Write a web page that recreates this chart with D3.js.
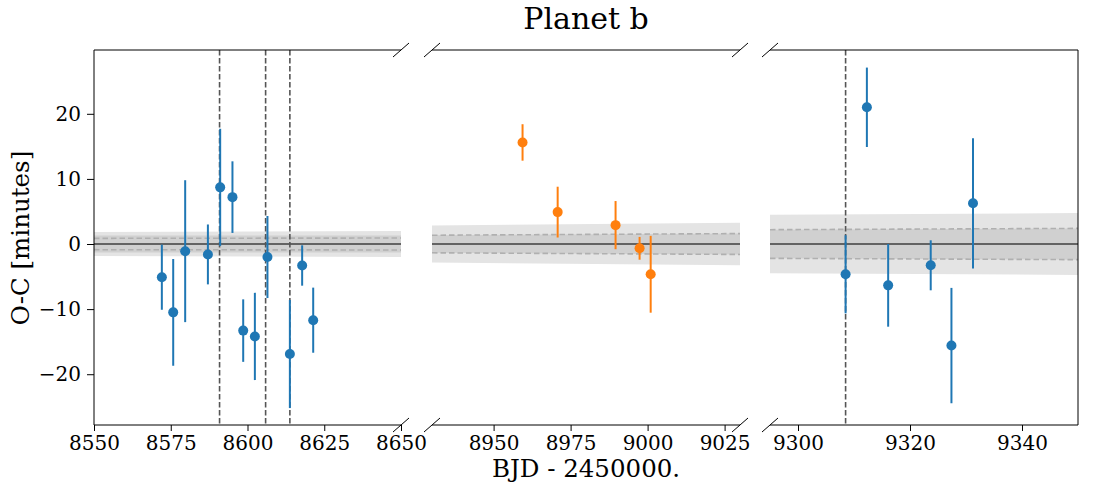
<!DOCTYPE html>
<html>
<head>
<meta charset="UTF-8">
<title>Planet b</title>
<script src="https://d3js.org/d3.v7.min.js"></script>
<style>
  body { margin: 0; background: #fff; }
  svg text { font-family: "DejaVu Serif", serif; fill: #000; }
  .tick text { font-size: 20px; }
  .tick line { stroke: #000; }
</style>
</head>
<body>
<svg width="1100" height="500"></svg>
<script>
// --- data ---
const yTicks = [-20, -10, 0, 10, 20];
const panelDomains = [[8550, 8650], [8930, 9030], [9295, 9350]];
const panelTicks = [[8550, 8575, 8600, 8625, 8650], [8950, 8975, 9000, 9025], [9300, 9320, 9340]];

// blue transits (left + right panel)
const blueEpoch = [8572.1, 8575.8, 8579.7, 8587.1, 8591.1, 8595.1, 8598.6, 8602.4, 8606.5, 8613.8, 8617.8, 8621.4,
                   9308.5, 9312.3, 9316.1, 9323.7, 9327.4, 9331.25];
const blueOC = [-5.1, -10.5, -1.1, -1.6, 8.7, 7.2, -13.3, -14.2, -2.0, -16.9, -3.3, -11.7,
                -4.65, 21.0, -6.35, -3.27, -15.6, 6.25];
const blueErr = [5.0, 8.2, 10.9, 4.6, 9.0, 5.5, 4.8, 6.7, 6.3, 8.3, 3.1, 5.0,
                 6.0, 6.1, 6.35, 3.84, 8.86, 10.0];

// orange transits (middle panel)
const orangeEpoch = [8959.4, 8970.8, 8989.6, 8997.4, 9001.0];
const orangeOC = [15.6, 4.9, 2.9, -0.66, -4.65];
const orangeErr = [2.8, 3.9, 3.7, 1.75, 5.9];

// vertical dashed markers
const markEpoch = [8590.9, 8605.9, 8613.8, 9308.5];

// model uncertainty bands: half-widths at panel start / end
const bandOuter = [[1.85, 2.0], [2.85, 3.25], [4.5, 4.75]];
const bandInner = [[1.3, 1.3], [1.35, 1.6], [2.2, 2.4]];
const bandDash = [[0.87, 0.92], [1.35, 1.6], [2.2, 2.4]];

const svg = d3.select("svg");
const plotTop = 50, plotBottom = 425;
const panelRanges = [[94, 401], [432, 740], [770, 1078]];

const y = d3.scaleLinear().domain([-27.8, 29.8]).range([plotBottom, plotTop]);

panelDomains.forEach((dom, i) => {
  const x = d3.scaleLinear().domain(dom).range(panelRanges[i]);
  const g = svg.append("g");
  const clipId = "clip" + i;
  svg.append("clipPath").attr("id", clipId)
    .append("rect").attr("x", panelRanges[i][0]).attr("y", plotTop)
    .attr("width", panelRanges[i][1] - panelRanges[i][0]).attr("height", plotBottom - plotTop);
  const inner = g.append("g").attr("clip-path", `url(#${clipId})`);

  const band = (hw, sign) => [
    { t: dom[0], v: sign * hw[0] },
    { t: dom[1], v: sign * hw[1] }
  ];
  const area = (hw) => {
    const up = band(hw, 1), lo = band(hw, -1);
    return d3.area().x(d => x(d.t)).y0((d, k) => y(lo[k].v)).y1(d => y(d.v))(up);
  };
  inner.append("path").attr("d", area(bandOuter[i])).attr("fill", "#e4e4e4");
  inner.append("path").attr("d", area(bandInner[i])).attr("fill", "#d0d0d0");
  const line = d3.line().x(d => x(d.t)).y(d => y(d.v));
  [1, -1].forEach(s => {
    inner.append("path").attr("d", line(band(bandDash[i], s)))
      .attr("fill", "none").attr("stroke", "#b0b0b0").attr("stroke-width", 1.6)
      .attr("stroke-dasharray", "5.5,3");
  });
  inner.append("path").attr("d", line([{ t: dom[0], v: 0 }, { t: dom[1], v: 0 }]))
    .attr("stroke", "#636363").attr("stroke-width", 2.2);

  markEpoch.filter(t => t >= dom[0] && t <= dom[1]).forEach(t => {
    inner.append("line").attr("x1", x(t)).attr("x2", x(t)).attr("y1", plotTop).attr("y2", plotBottom)
      .attr("stroke", "#555").attr("stroke-width", 1.6).attr("stroke-dasharray", "5.5,2.5");
  });

  const drawSeries = (ep, oc, err, color) => {
    const pts = ep.map((t, k) => ({ t, v: oc[k], e: err[k] })).filter(d => d.t >= dom[0] && d.t <= dom[1]);
    inner.selectAll(null).data(pts).enter().append("line")
      .attr("x1", d => x(d.t)).attr("x2", d => x(d.t))
      .attr("y1", d => y(d.v - d.e)).attr("y2", d => y(d.v + d.e))
      .attr("stroke", color).attr("stroke-width", 2);
    inner.selectAll(null).data(pts).enter().append("circle")
      .attr("cx", d => x(d.t)).attr("cy", d => y(d.v)).attr("r", 5)
      .attr("fill", color);
  };
  drawSeries(blueEpoch, blueOC, blueErr, "#1f77b4");
  drawSeries(orangeEpoch, orangeOC, orangeErr, "#ff7f0e");

  // x axis
  const ax = g.append("g").attr("transform", `translate(0,${plotBottom})`)
    .call(d3.axisBottom(x).tickValues(panelTicks[i]).tickSize(6).tickPadding(5).tickFormat(d3.format("d")));
  ax.select(".domain").remove();

  // spines
  const [x0, x1] = panelRanges[i];
  const sp = (a, b, c, d) => g.append("line").attr("x1", a).attr("y1", b).attr("x2", c).attr("y2", d)
    .attr("stroke", "#000").attr("stroke-width", 1);
  sp(x0, plotTop, x1, plotTop);
  sp(x0, plotBottom, x1, plotBottom);
  if (i === 0) sp(x0, plotTop, x0, plotBottom);
  if (i === 2) sp(x1, plotTop, x1, plotBottom);

  // break marks
  const diag = (cx, cy) => sp(cx - 8, cy + 7, cx + 8, cy - 7);
  if (i > 0) { diag(x0, plotTop); diag(x0, plotBottom); }
  if (i < 2) { diag(x1, plotTop); diag(x1, plotBottom); }

  if (i === 0) {
    const ay = g.append("g").attr("transform", `translate(${x0},0)`)
      .call(d3.axisLeft(y).tickValues(yTicks).tickSize(7).tickPadding(6));
    ay.select(".domain").remove();
  }
});

// unicode minus like matplotlib
svg.selectAll(".tick text").text(function () { return d3.select(this).text().replace("-", "\u2212"); });

svg.append("text").attr("x", 586).attr("y", 29).attr("text-anchor", "middle")
  .style("font-size", "30px").text("Planet b");
svg.append("text").attr("x", 586).attr("y", 477).attr("text-anchor", "middle")
  .style("font-size", "24.5px").text("BJD - 2450000.");
svg.append("text").attr("transform", "translate(29,238) rotate(-90)").attr("text-anchor", "middle")
  .style("font-size", "24.5px").text("O-C [minutes]");
</script>
</body>
</html>
